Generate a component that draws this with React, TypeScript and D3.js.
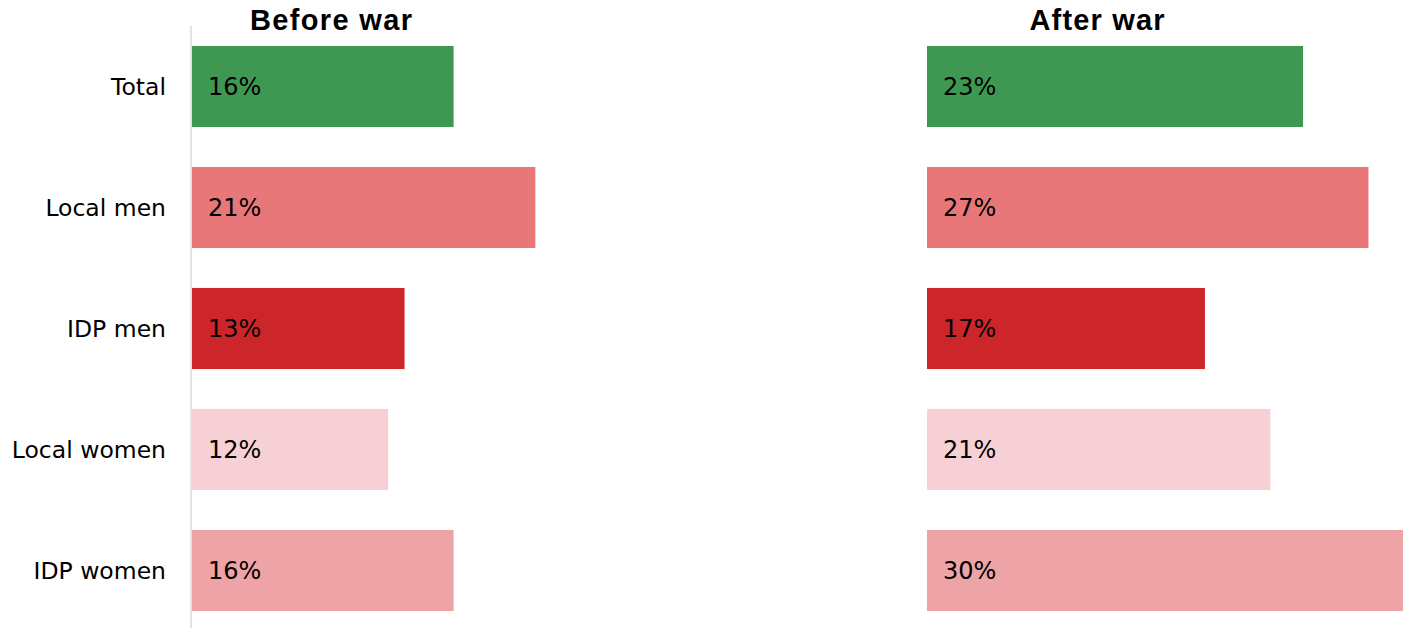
import React from "react";
import * as d3 from "d3";

const categories = ["Total", "Local men", "IDP men", "Local women", "IDP women"];
const beforeWar = [16, 21, 13, 12, 16];
const afterWar = [23, 27, 17, 21, 30];
const panelTitles = ["Before war", "After war"];
const colors = ["#3f9852", "#e87779", "#cc252a", "#f7d0d5", "#eea3a6"];

const W = 1403;
const H = 628;

export default function App() {
  const y = d3.scaleBand<string>().domain(categories).range([26, 631]).paddingInner(0.33).paddingOuter(0.165);
  const xLeft = d3.scaleLinear().domain([0, 30]).range([192, 682.5]);
  const xRight = d3.scaleLinear().domain([0, 30]).range([927, 1417.5]);
  const labelFont = "'DejaVu Sans', Verdana, sans-serif";
  const titleFont = "'Liberation Sans', Arial, sans-serif";

  const panels = [
    { values: beforeWar, x: xLeft, title: panelTitles[0], titleX: 331, titleW: 162 },
    { values: afterWar, x: xRight, title: panelTitles[1], titleX: 1097, titleW: 135 },
  ];

  return (
    <svg width={W} height={H} style={{ position: "absolute", left: 0, top: 0, background: "#fff" }}>
      {panels.map((p, pi) => (
        <g key={pi}>
          <text
            x={p.titleX}
            y={30}
            textAnchor="middle"
            fontFamily={titleFont}
            fontWeight="bold"
            fontSize={29}
            textLength={p.titleW}
            lengthAdjust="spacing"
            fill="#000"
          >
            {p.title}
          </text>
          {categories.map((c, i) => (
            <g key={c}>
              <rect
                x={p.x(0)}
                y={y(c)}
                width={p.x(p.values[i]) - p.x(0)}
                height={y.bandwidth()}
                fill={colors[i]}
              />
              <text
                x={p.x(0) + 16}
                y={(y(c) as number) + y.bandwidth() / 2}
                dy="0.37em"
                fontFamily={labelFont}
                fontSize={24}
                fill="#000"
              >
                {p.values[i]}%
              </text>
            </g>
          ))}
        </g>
      ))}
      <line x1={191} x2={191} y1={26} y2={H} stroke="#d9d9d9" strokeWidth={1.5} />
      {categories.map((c) => (
        <text
          key={c}
          x={166}
          y={(y(c) as number) + y.bandwidth() / 2}
          dy="0.36em"
          textAnchor="end"
          fontFamily={labelFont}
          fontSize={23.5}
          fill="#000"
        >
          {c}
        </text>
      ))}
    </svg>
  );
}
